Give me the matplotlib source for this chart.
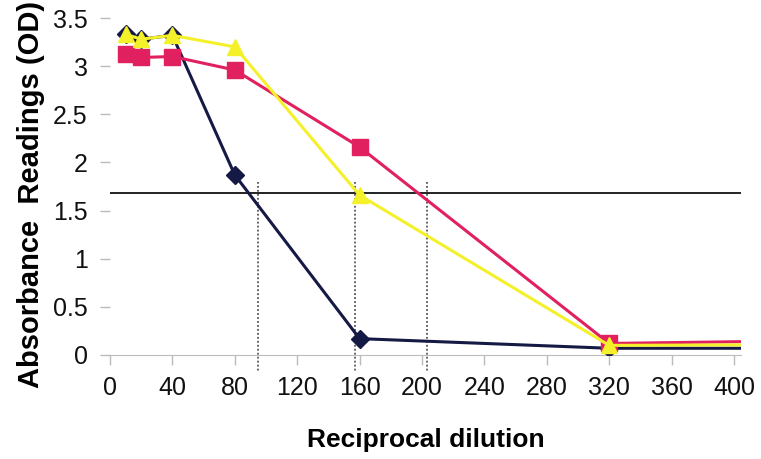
import matplotlib
matplotlib.use("Agg")
import matplotlib.pyplot as plt

# Data
dilution = [10, 20, 40, 80, 160, 320, 640]
series_blue = [3.33, 3.28, 3.32, 1.87, 0.17, 0.07, 0.07]
series_pink = [3.13, 3.09, 3.10, 2.96, 2.16, 0.12, 0.19]
series_yellow = [3.33, 3.28, 3.32, 3.20, 1.66, 0.10, 0.12]
cutoff = 1.68
endpoints = [95, 157, 203]
xticks = list(range(0, 401, 40))
yticks = [0, 0.5, 1, 1.5, 2, 2.5, 3, 3.5]
ytick_labels = ["0", "0.5", "1", "1.5", "2", "2.5", "3", "3.5"]

plt.rcParams['font.family'] = ['Liberation Sans', 'DejaVu Sans']

fig = plt.figure(figsize=(7.61, 4.59), dpi=100)
ax = fig.add_axes([110/761, (459-355)/459, 631/761, 337/459])

ax.plot(dilution, series_blue, color='#141a44', lw=2.2, marker='D', ms=9,
        markeredgecolor='#141a44', zorder=3)
ax.plot(dilution, series_pink, color='#e0205f', lw=2.2, marker='s', ms=11,
        markeredgecolor='#e0205f', zorder=4)
ax.plot(dilution, series_yellow, color='#f4f02a', lw=2.2, marker='^', ms=12,
        markeredgecolor='#f4f02a', zorder=5)

ax.axhline(cutoff, color='#222222', lw=1.4, zorder=2)
for xe in endpoints:
    ax.plot([xe, xe], [1.80, -0.18], color='#555555', lw=1.3, ls=(0, (1, 1.2)),
            clip_on=False, zorder=1)

ax.set_xlim(0, 404.5)
ax.set_ylim(0, 3.5)
ax.set_xticks(xticks)
ax.set_yticks(yticks)
ax.set_yticklabels(ytick_labels)

for s in ['top', 'right', 'left']:
    ax.spines[s].set_visible(False)
ax.spines['bottom'].set_color('#bbbbbb')
ax.tick_params(axis='both', colors='#bbbbbb', labelcolor='#111111',
               labelsize=18, length=7, width=1)
ax.tick_params(axis='x', pad=8)
ax.tick_params(axis='y', pad=9)

ax.set_xlabel('Reciprocal dilution', fontsize=19, fontweight='bold', labelpad=20)
ax.set_ylabel('Absorbance  Readings (OD)', fontsize=21, fontweight='bold')
ax.yaxis.set_label_coords(-0.103, 0.475)

fig.savefig('out.png', dpi=100)
